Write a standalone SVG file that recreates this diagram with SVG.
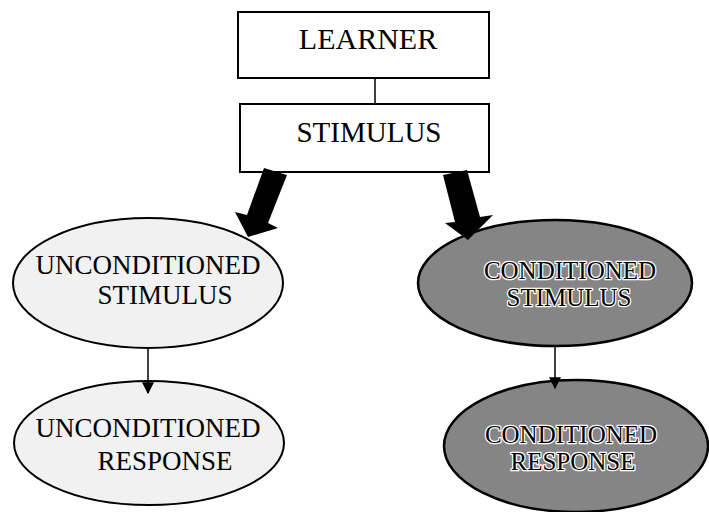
<svg xmlns="http://www.w3.org/2000/svg" width="709" height="512" viewBox="0 0 709 512">
<defs>
<style>
.box{fill:#fff;stroke:#000;stroke-width:2}
.light{fill:#f1f1f1;stroke:#000;stroke-width:2}
.dark{fill:#858585;stroke:#000;stroke-width:2.5}
.t{font-family:"Liberation Serif","Times New Roman",serif;fill:#000;text-anchor:middle}
.halo{stroke:#fff;stroke-width:2.5;paint-order:stroke;stroke-linejoin:round}
.line{stroke:#000;stroke-width:1.5;fill:none}
.big{fill:#000}
</style>
<marker id="ah" viewBox="0 0 10 10" refX="9" refY="5" markerWidth="12" markerHeight="12" markerUnits="userSpaceOnUse" orient="auto">
<path d="M0,0 L10,5 L0,10 z" fill="#000"/>
</marker>
</defs>
<rect width="709" height="512" fill="#fff"/>
<g id="learner">
<rect class="box" x="238" y="12" width="251" height="66"/>
<text class="t" x="368" y="49" font-size="30">LEARNER</text>
</g>
<g id="stimulus">
<rect class="box" x="240" y="104" width="249" height="68"/>
<text class="t" x="369" y="142" font-size="29">STIMULUS</text>
</g>
<g id="unconditioned-stimulus">
<ellipse class="light" cx="148" cy="283" rx="135" ry="65"/>
<text class="t" x="148" y="274" font-size="27">UNCONDITIONED</text>
<text class="t" x="165" y="304" font-size="27">STIMULUS</text>
</g>
<g id="conditioned-stimulus">
<ellipse class="dark" cx="555" cy="283" rx="137" ry="63"/>
<text class="t halo" x="570" y="279" font-size="25">CONDITIONED</text>
<text class="t halo" x="569" y="306" font-size="25">STIMULUS</text>
</g>
<g id="unconditioned-response">
<ellipse class="light" cx="149" cy="443" rx="135" ry="62"/>
<text class="t" x="148" y="437" font-size="27">UNCONDITIONED</text>
<text class="t" x="165" y="470" font-size="27">RESPONSE</text>
</g>
<g id="conditioned-response">
<ellipse class="dark" cx="576" cy="446" rx="132" ry="66"/>
<text class="t halo" x="571" y="443" font-size="25">CONDITIONED</text>
<text class="t halo" x="573" y="470" font-size="25">RESPONSE</text>
</g>
<g id="connectors">
<line class="line" x1="375" y1="78" x2="375" y2="104"/>
<line class="line" x1="148" y1="348" x2="148" y2="393" marker-end="url(#ah)"/>
<line class="line" x1="555" y1="346" x2="555" y2="388" marker-end="url(#ah)"/>
<polygon class="big" points="264,168 287,175 268,223 278,228 248,237 235,212 247,215"/>
<polygon class="big" points="443,175 467,170 480,217 493,215 468,240 445,223 455,222"/>
</g>
</svg>
